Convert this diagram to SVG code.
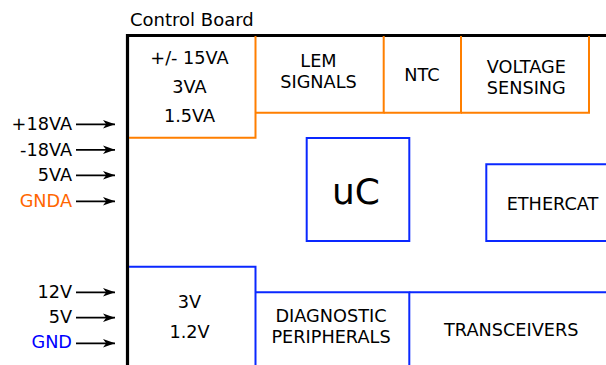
<svg xmlns="http://www.w3.org/2000/svg" width="606" height="365" viewBox="0 0 606 365">
<defs>
<style>
text{font-family:"DejaVu Sans",sans-serif;font-size:17.7px;fill:#000}
.c{text-anchor:middle}
.r{text-anchor:end}
.or{fill:none;stroke:#ff7f00;stroke-width:2}
.bl{fill:none;stroke:#0a28ff;stroke-width:2}
.ar{stroke:#000;stroke-width:1.8;fill:none;marker-end:url(#ah)}
</style>
<marker id="ah" markerWidth="13" markerHeight="10" refX="12" refY="5" orient="auto" markerUnits="userSpaceOnUse">
<path d="M0,0.8 L12,5 L0,9.2 L3.2,5 Z" fill="#000"/>
</marker>
</defs>
<rect width="606" height="365" fill="#fff"/>
<g id="board">
<text x="130" y="26" style="font-size:18px">Control Board</text>
<path d="M127.5,366 V35.5 H607" fill="none" stroke="#000" stroke-width="3.2"/>
</g>
<g id="power-analog">
<path class="or" d="M129,137.7 H255.5 V36"/>
<text class="c" x="189.5" y="64">+/- 15VA</text>
<text class="c" x="189.5" y="93">3VA</text>
<text class="c" x="189.5" y="122">1.5VA</text>
</g>
<g id="lem">
<path class="or" d="M255.5,112.7 H383.7 V36"/>
<text class="c" x="318.5" y="66.7">LEM</text>
<text class="c" x="318.5" y="88.3">SIGNALS</text>
</g>
<g id="ntc">
<path class="or" d="M383.7,112.7 H461 V36"/>
<text class="c" x="422" y="81">NTC</text>
</g>
<g id="voltage">
<path class="or" d="M461,112.7 H589 V36"/>
<text class="c" x="526.3" y="73.3">VOLTAGE</text>
<text class="c" x="526.3" y="94">SENSING</text>
</g>
<g id="uc">
<rect class="bl" x="306.7" y="138" width="102.6" height="103"/>
<text class="c" x="356" y="203.5" style="font-size:36px">uC</text>
</g>
<g id="ethercat">
<path class="bl" d="M607,164.3 H486.3 V241 H607"/>
<text class="c" x="552.5" y="210">ETHERCAT</text>
</g>
<g id="power-digital">
<path class="bl" d="M129,266.7 H255.5 V366"/>
<text class="c" x="189.5" y="308.3">3V</text>
<text class="c" x="189.5" y="338.3">1.2V</text>
</g>
<g id="diagnostic">
<path class="bl" d="M255.5,292.3 H409.3 V366"/>
<text class="c" x="331" y="321.7">DIAGNOSTIC</text>
<text class="c" x="331" y="343.3">PERIPHERALS</text>
</g>
<g id="transceivers">
<path class="bl" d="M409.3,292.3 H607"/>
<text class="c" x="511.3" y="335.7">TRANSCEIVERS</text>
</g>
<g id="inputs">
<text class="r" x="72" y="130">+18VA</text>
<text class="r" x="72" y="155.5">-18VA</text>
<text class="r" x="72" y="181">5VA</text>
<text class="r" x="72" y="207" style="fill:#ff6600">GNDA</text>
<text class="r" x="72" y="298.3">12V</text>
<text class="r" x="72" y="323.3">5V</text>
<text class="r" x="72" y="348.3" style="fill:#0000ff">GND</text>
</g>
<g id="connectors">
<path class="ar" d="M76,124.3 H115"/>
<path class="ar" d="M76,149.8 H115"/>
<path class="ar" d="M76,175.3 H115"/>
<path class="ar" d="M76,201.3 H115"/>
<path class="ar" d="M76,292.3 H115"/>
<path class="ar" d="M76,317.7 H115"/>
<path class="ar" d="M76,343.3 H115"/>
</g>
</svg>
